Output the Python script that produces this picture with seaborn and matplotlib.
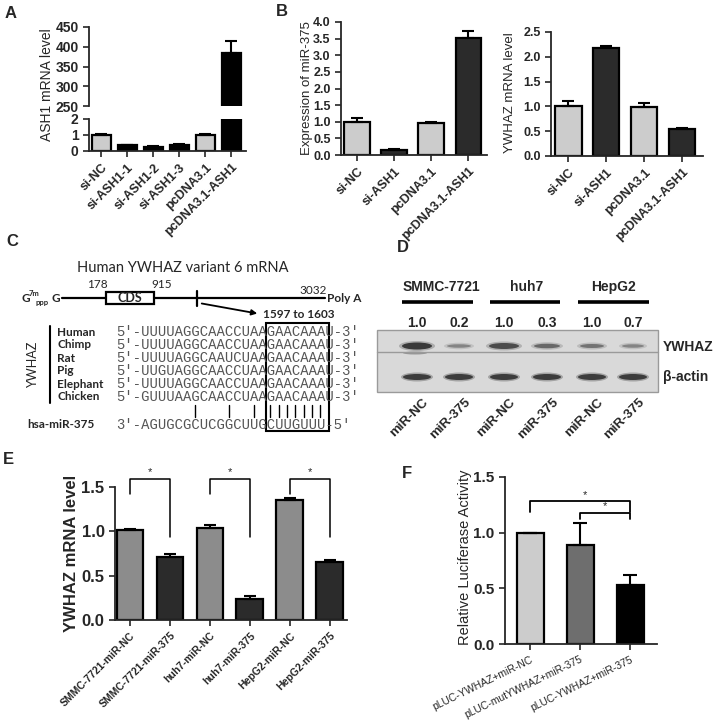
import numpy as np
import pandas as pd
import seaborn as sns
import matplotlib.pyplot as plt
from matplotlib.patches import Rectangle, Ellipse, FancyArrowPatch

# ---- data ----
# A: ASH1 mRNA level (broken axis)
a_labels = ['si-NC', 'si-ASH1-1', 'si-ASH1-2', 'si-ASH1-3', 'pcDNA3.1', 'pcDNA3.1-ASH1']
a_vals = [1.0, 0.35, 0.27, 0.38, 1.0, 385]
a_err = [0.07, 0.05, 0.04, 0.05, 0.04, 30]
a_cols = ['#cccccc', '#000000', '#000000', '#000000', '#cccccc', '#000000']

# B: miR-375 expression and YWHAZ mRNA
b_labels = ['si-NC', 'si-ASH1', 'pcDNA3.1', 'pcDNA3.1-ASH1']
b_mir = [1.0, 0.15, 0.96, 3.52]
b_mir_err = [0.11, 0.03, 0.03, 0.20]
b_ywhaz = [1.01, 2.17, 0.99, 0.54]
b_ywhaz_err = [0.10, 0.05, 0.07, 0.02]
b_cols = ['#cccccc', '#2b2b2b', '#cccccc', '#2b2b2b']

# C: sequence alignment
species = ['Human', 'Chimp', 'Rat', 'Pig', 'Elephant', 'Chicken']
seqs = ['UUUUAGGCAACCUAAGAACAAAU', 'UUUUAGGCAACCUAAGAACAAAU', 'UUUUAGGCAAUCUAAGAACAAAU',
        'UUGUAGGCAACCUAAGAACAAAU', 'UUUUAGGCAACCUAAGAACAAAU', 'GUUUAAGCAACCUAAGAACAAAU']
mir_seq = 'AGUGCGCUCGGCUUGCUUGUUU'
pair_idx = [6, 10, 13, 15, 16, 17, 18, 19, 20, 21]  # paired nucleotide positions

# D: western blot
cell_lines = ['SMMC-7721', 'huh7', 'HepG2']
lanes = ['miR-NC', 'miR-375'] * 3
quant = ['1.0', '0.2', '1.0', '0.3', '1.0', '0.7']

# E: YWHAZ mRNA in cell lines
e_labels = ['SMMC-7721-miR-NC', 'SMMC-7721-miR-375', 'huh7-miR-NC', 'huh7-miR-375',
            'HepG2-miR-NC', 'HepG2-miR-375']
e_vals = [1.01, 0.71, 1.04, 0.24, 1.35, 0.65]
e_err = [0.02, 0.04, 0.03, 0.03, 0.03, 0.03]
e_cols = ['#8c8c8c', '#2b2b2b'] * 3

# F: luciferase
f_labels = ['pLUC-YWHAZ+miR-NC', 'pLUC-mutYWHAZ+miR-375', 'pLUC-YWHAZ+miR-375']
f_vals = [1.0, 0.89, 0.53]
f_err = [0.0, 0.20, 0.09]
f_cols = ['#cccccc', '#6e6e6e', '#000000']

# ---- style ----
sns.set_style('ticks')
plt.rcParams['font.family'] = ['Liberation Sans', 'DejaVu Sans']
plt.rcParams['axes.linewidth'] = 1.3

W, H = 716, 724
fig = plt.figure(figsize=(W / 100, H / 100), dpi=100)


def px_rect(x0, y0, x1, y1):
    return [x0 / W, 1 - y1 / H, (x1 - x0) / W, (y1 - y0) / H]


def bar_panel(ax, labels, vals, errs, cols, width, xlim, ylim, yticks,
              ysize=10, xsize=9, xrot=45, xweight='bold', cap=4):
    sns.barplot(x=labels, y=vals, hue=labels, palette=cols, legend=False, ax=ax,
                width=width, edgecolor='black', linewidth=1.6, saturation=1, errorbar=None)
    n = len(vals)
    ax.errorbar(range(n), vals, yerr=[np.zeros(n), errs], fmt='none', ecolor='black',
                elinewidth=1.5, capsize=cap, capthick=1.5, zorder=3)
    ax.set_xlim(xlim)
    ax.set_ylim(ylim)
    ax.set_yticks(yticks)
    ax.set_xlabel('')
    ax.set_ylabel('')
    ax.tick_params(direction='out', length=4, width=1.2)
    ax.set_xticks(range(n), labels, rotation=xrot, ha='right', va='top',
                  rotation_mode='anchor', fontsize=xsize, fontweight=xweight)
    for t in ax.get_yticklabels():
        t.set_fontsize(ysize)
        t.set_fontweight('bold')
    sns.despine(ax=ax)


def fmt_ticks(ax, ticks, size):
    ax.set_yticklabels([f'{v:.1f}' for v in ticks])
    for t in ax.get_yticklabels():
        t.set_fontweight('bold')
        t.set_fontsize(size)


# overlay axis in pixel coordinates for text/diagram parts
ov = fig.add_axes([0, 0, 1, 1], zorder=0)
ov.set_xlim(0, W)
ov.set_ylim(H, 0)
ov.axis('off')

# ---- A ----
axA_up = fig.add_axes(px_rect(89, 27, 246, 106))
axA_lo = fig.add_axes(px_rect(89, 119, 246, 151))
bar_panel(axA_up, a_labels, a_vals, a_err, a_cols, 0.73, (-0.48, 5.56), (250, 450),
          [250, 300, 350, 400, 450])
axA_up.spines['bottom'].set_visible(False)
axA_up.tick_params(axis='x', bottom=False, labelbottom=False)
bar_panel(axA_lo, a_labels, a_vals, a_err, a_cols, 0.73, (-0.48, 5.56), (0, 2), [0, 1, 2])

# ---- B ----
axB1 = fig.add_axes(px_rect(341, 22, 487, 155))
b1_ticks = np.arange(0, 4.01, 0.5)
bar_panel(axB1, b_labels, b_mir, b_mir_err, b_cols, 0.68, (-0.43, 3.51), (0, 4), b1_ticks)
fmt_ticks(axB1, b1_ticks, 9)
axB2 = fig.add_axes(px_rect(551, 32, 703, 156))
b2_ticks = np.arange(0, 2.51, 0.5)
bar_panel(axB2, b_labels, b_ywhaz, b_ywhaz_err, b_cols, 0.69, (-0.46, 3.55), (0, 2.5),
          b2_ticks)
fmt_ticks(axB2, b2_ticks, 9)

# ---- E ----
axE = fig.add_axes(px_rect(115, 487, 347, 620))
e_ticks = [0, 0.5, 1.0, 1.5]
bar_panel(axE, e_labels, e_vals, e_err, e_cols, 0.67, (-0.375, 5.43), (0, 1.5),
          e_ticks, xsize=7.5)
fmt_ticks(axE, e_ticks, 12)
for i in (0, 2, 4):
    axE.plot([i, i, i + 1, i + 1], [1.42, 1.59, 1.59, 0.94], color='black', lw=1.1,
             clip_on=False)
    axE.text(i + 0.5, 1.61, '*', ha='center', va='bottom', fontsize=8)

# ---- F ----
axF = fig.add_axes(px_rect(505, 477, 657, 644))
bar_panel(axF, f_labels, f_vals, f_err, f_cols, 0.54, (-0.5, 2.54), (0, 1.5),
          e_ticks, xsize=7.5, xrot=26, xweight='normal', cap=5)
fmt_ticks(axF, e_ticks, 11)
axF.plot([0, 0, 2, 2], [1.19, 1.28, 1.28, 1.19], color='black', lw=1.3, clip_on=False)
axF.text(1.1, 1.29, '*', ha='center', va='bottom', fontsize=8)
axF.plot([1, 1, 2, 2], [1.12, 1.18, 1.18, 1.12], color='black', lw=1.3, clip_on=False)
axF.text(1.5, 1.19, '*', ha='center', va='bottom', fontsize=8)

# ---- panel letters and y labels ----
for lab, x, y in [('A', 5, 13), ('B', 276, 11), ('C', 6, 242), ('D', 397, 247),
                  ('E', 3, 460), ('F', 402, 474)]:
    ov.text(x, y, lab, fontsize=12, fontweight='bold', ha='left', va='center')
ov.text(47, 85, 'ASH1 mRNA level', rotation=90, ha='center', va='center', fontsize=10)
ov.text(307, 88, 'Expression of miR-375', rotation=90, ha='center', va='center',
        fontsize=9.5)
ov.text(510, 93, 'YWHAZ mRNA level', rotation=90, ha='center', va='center', fontsize=9.5)
ov.text(72, 553, 'YWHAZ mRNA level', rotation=90, ha='center', va='center', fontsize=12,
        fontweight='bold')
ov.text(465, 557, 'Relative Luciferase Activity', rotation=90, ha='center', va='center',
        fontsize=10.5)

# ---- C: mRNA diagram and alignment ----
cf = ['Lato', 'DejaVu Sans']
ov.text(183, 268, 'Human YWHAZ variant 6 mRNA', ha='center', va='center', fontsize=10.5,
        family=cf)
ov.text(97, 285, '178', ha='center', va='center', fontsize=8.5, family=cf)
ov.text(162, 285, '915', ha='center', va='center', fontsize=8.5, family=cf)
ov.text(313, 290, '3032', ha='center', va='center', fontsize=8.5, family=cf)
ov.plot([62, 325], [298, 298], color='black', lw=1.6)
ov.add_patch(Rectangle((106, 292), 48, 12, facecolor='white', edgecolor='black', lw=1.6,
                       zorder=3))
ov.text(130, 298, 'CDS', ha='center', va='center', fontsize=9, fontweight='bold', family=cf,
        zorder=4)
ov.plot([197, 197], [291, 306], color='black', lw=1.6)
ov.add_patch(FancyArrowPatch((199, 303), (260, 314), arrowstyle='-|>', mutation_scale=8,
                             color='black', lw=1.3))
ov.text(263, 315, '1597 to 1603', ha='left', va='center', fontsize=8.5, fontweight='bold',
        family=cf)
ov.text(327, 299, 'Poly A', ha='left', va='center', fontsize=8.5, fontweight='bold', family=cf)
ov.text(21, 299, 'G', ha='left', va='center', fontsize=8.5, fontweight='bold', family=cf)
ov.text(29, 293, '7m', ha='left', va='center', fontsize=5.5, fontweight='bold', family=cf)
ov.text(36, 302, 'ppp', ha='left', va='center', fontsize=5.5, fontweight='bold', family=cf)
ov.text(51, 299, 'G', ha='left', va='center', fontsize=8.5, fontweight='bold', family=cf)

mono = ['Liberation Mono', 'DejaVu Sans Mono']
fs_seq = 10
cw = 0.6 * fs_seq * 100 / 72
x0 = 116
row_y = [332, 345, 358, 371, 384, 397]
for sp, sq, y in zip(species, seqs, row_y):
    ov.text(57, y, sp, ha='left', va='center', fontsize=8.5, fontweight='bold', family=cf)
    ov.text(x0, y, "5'-" + sq + "-3'", ha='left', va='center', fontsize=fs_seq,
            family=mono, color='#555555')
ov.plot([50, 50], [326, 403], color='black', lw=1.5)
ov.text(33, 365, 'YWHAZ', rotation=90, ha='center', va='center', fontsize=9, family=cf)
ov.text(27, 425, 'hsa-miR-375', ha='left', va='center', fontsize=8.5, fontweight='bold',
        family=cf)
ov.text(x0, 425, "3'-" + mir_seq + "-5'", ha='left', va='center', fontsize=fs_seq,
        family=mono, color='#555555')
for i in pair_idx:
    xc = x0 + (i + 3.5) * cw
    ov.plot([xc, xc], [405, 417], color='black', lw=1.0)
ov.add_patch(Rectangle((x0 + 18 * cw, 323), 7.5 * cw, 108, fill=False, edgecolor='black',
                       lw=1.5))

# ---- D: western blot ----
lane_x = [417, 459, 504, 547, 592, 633]
for name, xc, (xa, xb) in zip(cell_lines, [441, 527, 613],
                              [(402, 473), (490, 560), (578, 649)]):
    ov.text(xc, 287, name, ha='center', va='center', fontsize=10, fontweight='bold')
    ov.plot([xa, xb], [302, 302], color='black', lw=2.6, solid_capstyle='butt')
for q, xc in zip(quant, lane_x):
    ov.text(xc, 323, q, ha='center', va='center', fontsize=10, fontweight='bold')
ov.add_patch(Rectangle((377, 330), 281, 62, facecolor='#d9d9d9', edgecolor='#9a9a9a', lw=1))
ov.plot([377, 658], [352, 352], color='#9a9a9a', lw=1)
band_w = [30, 24, 30, 26, 24, 22]
band_h = [7, 3.5, 6, 4.5, 4, 3.5]
band_c = ['#262626', '#7a7a7a', '#3a3a3a', '#5a5a5a', '#666666', '#7a7a7a']
for xc, bw, bh, bc in zip(lane_x, band_w, band_h, band_c):
    ov.add_patch(Ellipse((xc, 346), bw + 6, bh + 3, facecolor=bc, alpha=0.25, lw=0))
    ov.add_patch(Ellipse((xc, 346), bw, bh, facecolor=bc, alpha=0.85, lw=0))
    ov.add_patch(Ellipse((xc, 377), 32, 9, facecolor='#2a2a2a', alpha=0.3, lw=0))
    ov.add_patch(Ellipse((xc, 377), 28, 6, facecolor='#2a2a2a', alpha=0.85, lw=0))
ov.add_patch(Ellipse((lane_x[0] - 2, 353), 24, 3, facecolor='#555555', alpha=0.5, lw=0))
ov.text(663, 347, 'YWHAZ', ha='left', va='center', fontsize=10, fontweight='bold')
ov.text(663, 377, 'β-actin', ha='left', va='center', fontsize=10, fontweight='bold')
for lab, xc in zip(lanes, lane_x):
    ov.text(xc + 5, 396, lab, rotation=45, ha='right', va='top', rotation_mode='anchor',
            fontsize=9.5, fontweight='bold')

fig.savefig('out.png', dpi=100)
